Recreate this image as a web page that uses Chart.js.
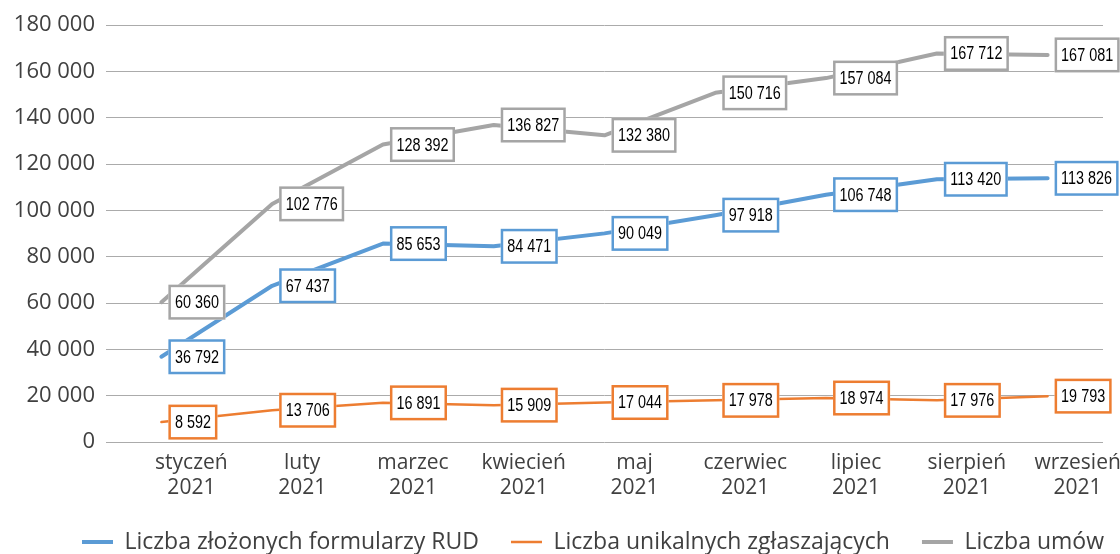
<!DOCTYPE html>
<html>
<head>
<meta charset="utf-8">
<script src="https://cdn.jsdelivr.net/npm/chart.js@4.4.1/dist/chart.umd.min.js"></script>
<style>
  html, body { margin: 0; padding: 0; background: #ffffff; }
  #wrap { width: 1120px; height: 554px; position: relative; }
</style>
</head>
<body>
<div id="wrap"><canvas id="c" width="1120" height="554"></canvas></div>
<script>
const categories = [
  ['styczeń', '2021'], ['luty', '2021'], ['marzec', '2021'], ['kwiecień', '2021'],
  ['maj', '2021'], ['czerwiec', '2021'], ['lipiec', '2021'], ['sierpień', '2021'], ['wrzesień', '2021']
];
const seriesNames = ['Liczba złożonych formularzy RUD', 'Liczba unikalnych zgłaszających', 'Liczba umów'];
const formularzeRUD = [36792, 67437, 85653, 84471, 90049, 97918, 106748, 113420, 113826];
const unikalniZglaszajacy = [8592, 13706, 16891, 15909, 17044, 17978, 18974, 17976, 19793];
const umowy = [60360, 102776, 128392, 136827, 132380, 150716, 157084, 167712, 167081];
const yTicks = [0, 20000, 40000, 60000, 80000, 100000, 120000, 140000, 160000, 180000];

const fmt = v => String(v).replace(/\B(?=(\d{3})+(?!\d))/g, ' ');
const TEXT = '#404040';
const FONT = "'Open Sans', 'Noto Sans', sans-serif";
const LEGEND_START = 82;

const boxLabels = {
  id: 'boxLabels',
  afterDatasetsDraw(chart) {
    const ctx = chart.ctx;
    const SX = 0.8;
    chart.data.datasets.forEach((ds, i) => {
      const meta = chart.getDatasetMeta(i);
      meta.data.forEach((pt, j) => {
        const txt = fmt(ds.data[j]);
        ctx.save();
        ctx.font = "18px 'Liberation Sans', Arial, sans-serif";
        const tw = ctx.measureText(txt).width * SX;
        const w = tw + 13, h = 35;
        const x0 = pt.x + 7, y0 = pt.y - h / 2;
        ctx.fillStyle = '#ffffff';
        ctx.fillRect(x0, y0, w, h);
        ctx.lineWidth = 2.5;
        ctx.strokeStyle = ds.borderColor;
        ctx.strokeRect(x0 + 1.25, y0 + 1.25, w - 2.5, h - 2.5);
        ctx.translate(x0 + w / 2, pt.y + 1);
        ctx.scale(SX, 1);
        ctx.fillStyle = '#000000';
        ctx.textAlign = 'center';
        ctx.textBaseline = 'middle';
        ctx.fillText(txt, 0, 0);
        ctx.restore();
      });
    });
  }
};

const legendShift = {
  id: 'legendShift',
  afterLayout(chart) {
    const L = chart.legend;
    if (!L) return;
    const pad = L.options.labels.padding;
    L.left = LEGEND_START - pad;
    L.right = chart.width + 200;
  }
};

new Chart(document.getElementById('c'), {
  type: 'line',
  data: {
    labels: categories,
    datasets: [
      { label: seriesNames[0], data: formularzeRUD, borderColor: '#5B9BD5', backgroundColor: '#5B9BD5', borderWidth: 4 },
      { label: seriesNames[1], data: unikalniZglaszajacy, borderColor: '#ED7D31', backgroundColor: '#ED7D31', borderWidth: 2.5 },
      { label: seriesNames[2], data: umowy, borderColor: '#A5A5A5', backgroundColor: '#A5A5A5', borderWidth: 4 }
    ].map(d => Object.assign(d, { pointRadius: 0, pointHoverRadius: 0, tension: 0, fill: false,
      borderJoinStyle: 'round', borderCapStyle: 'round' }))
  },
  options: {
    responsive: false,
    animation: false,
    events: [],
    layout: { padding: { top: 25, right: 17, left: 0, bottom: -9.5 } },
    scales: {
      x: {
        type: 'category',
        offset: true,
        grid: { display: false, drawTicks: false },
        border: { display: false },
        ticks: {
          autoSkip: false, maxRotation: 0, minRotation: 0,
          padding: 8, labelOffset: 30,
          color: TEXT, font: { family: FONT, size: 21 }
        },
        afterFit(scale) { scale.height = 56.5; }
      },
      y: {
        min: 0, max: 180000,
        afterBuildTicks(scale) { scale.ticks = yTicks.map(v => ({ value: v })); },
        grid: { color: '#ababab', lineWidth: 1, drawTicks: false },
        border: { display: false },
        ticks: {
          padding: 11, color: TEXT, font: { family: FONT, size: 22 },
          callback: v => fmt(v)
        },
        afterFit(scale) { scale.width = 106; }
      }
    },
    plugins: {
      tooltip: { enabled: false },
      legend: {
        position: 'bottom',
        fullSize: true,
        align: 'start',
        labels: {
          usePointStyle: true, pointStyle: 'line', pointStyleWidth: 31,
          padding: 32, color: TEXT, font: { family: FONT, size: 23 }
        }
      }
    }
  },
  plugins: [boxLabels, legendShift]
});
</script>
</body>
</html>
